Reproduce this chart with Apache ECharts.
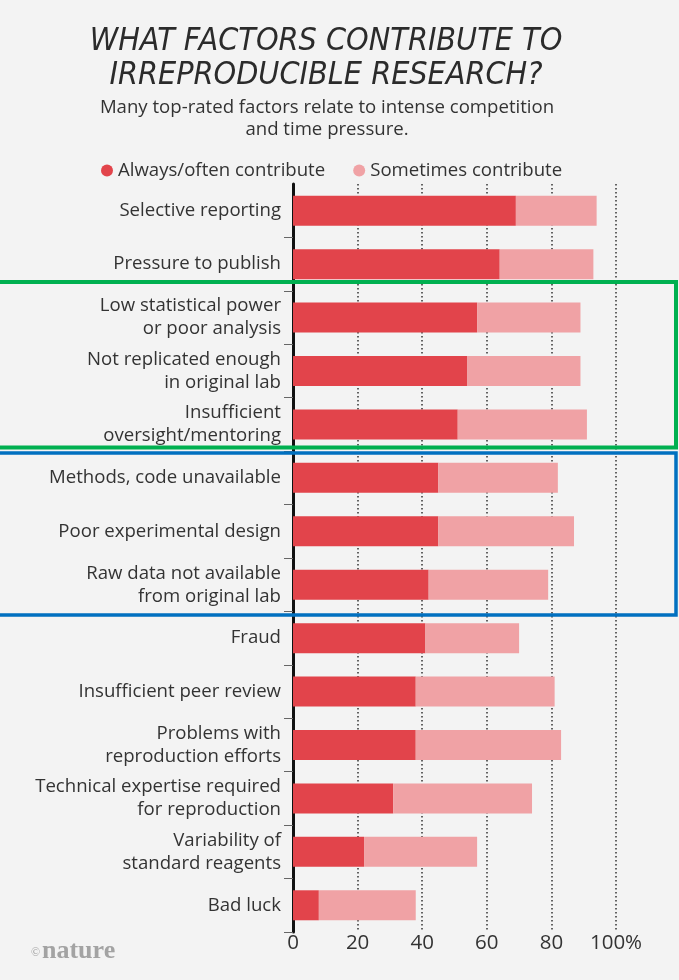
<!DOCTYPE html>
<html>
<head>
<meta charset="utf-8">
<script src="https://cdn.jsdelivr.net/npm/echarts@6/dist/echarts.min.js"></script>
<style>
html,body{margin:0;padding:0;background:#f3f3f3;}
#chart{width:679px;height:980px;}
</style>
</head>
<body>
<div id="chart"></div>
<script>
const categories = [
  "Selective reporting",
  "Pressure to publish",
  "Low statistical power\nor poor analysis",
  "Not replicated enough\nin original lab",
  "Insufficient\noversight/mentoring",
  "Methods, code unavailable",
  "Poor experimental design",
  "Raw data not available\nfrom original lab",
  "Fraud",
  "Insufficient peer review",
  "Problems with\nreproduction efforts",
  "Technical expertise required\nfor reproduction",
  "Variability of\nstandard reagents",
  "Bad luck"
];
const alwaysOften = [69, 64, 57, 54, 51, 45, 45, 42, 41, 38, 38, 31, 22, 8];
const sometimes   = [25, 29, 32, 35, 40, 37, 42, 37, 29, 43, 45, 43, 35, 30];
const xTicks = [0, 20, 40, 60, 80, 100];
const seriesNames = ["Always/often contribute", "Sometimes contribute"];

const DARK = '#e2444b';
const LIGHT = '#f0a2a5';
const FONT = '"Open Sans", "Liberation Sans", Arial, sans-serif';
const TFONT = '"Liberation Sans Narrow", "DejaVu Sans Condensed", sans-serif';

const chart = echarts.init(document.getElementById('chart'), null, {renderer: 'canvas'});
chart.setOption({
  backgroundColor: '#f3f3f3',
  animation: false,
  legend: {
    left: 96, top: 156,
    itemWidth: 12, itemHeight: 12, itemGap: 28,
    icon: 'circle',
    textStyle: {fontFamily: FONT, fontSize: 18.6, color: '#333'},
    data: seriesNames
  },
  grid: {left: 293, right: 63, top: 184, bottom: 48, containLabel: false},
  xAxis: {
    type: 'value', min: 0, max: 100, interval: 20,
    axisLine: {show: false}, axisTick: {show: false},
    axisLabel: {
      fontFamily: FONT, fontSize: 20.5, color: '#333', margin: 1,
      formatter: v => (v === 100 ? v + '%' : String(v))
    },
    splitLine: {show: true, lineStyle: {color: '#333', width: 1.5, type: [1.5, 2.5]}}
  },
  yAxis: {
    type: 'category', inverse: true, data: categories,
    axisLine: {show: true, lineStyle: {color: '#111', width: 3}},
    axisTick: {show: true, length: 9, interval: (i) => i !== 0, lineStyle: {color: '#666', width: 1}},
    axisLabel: {fontFamily: FONT, fontSize: 18.6, color: '#333', margin: 12, lineHeight: 23, align: 'right', padding: [4, 0, 0, 0]}
  },
  series: [
    {name: seriesNames[0], type: 'bar', stack: 'a', data: alwaysOften, barWidth: 30,
     itemStyle: {color: DARK}},
    {name: seriesNames[1], type: 'bar', stack: 'a', data: sometimes, barWidth: 30,
     itemStyle: {color: LIGHT}}
  ],
  graphic: [
    {type: 'text', x: 326, y: 42, style: {text: 'WHAT FACTORS CONTRIBUTE TO', fontFamily: TFONT, fontStyle: 'italic', fontSize: 32, fill: '#2b2b2b', textAlign: 'center', textVerticalAlign: 'middle'}},
    {type: 'text', x: 326, y: 76, style: {text: 'IRREPRODUCIBLE RESEARCH?', fontFamily: TFONT, fontStyle: 'italic', fontSize: 32, fill: '#2b2b2b', textAlign: 'center', textVerticalAlign: 'middle'}},
    {type: 'text', x: 327, y: 108, style: {text: 'Many top-rated factors relate to intense competition', fontFamily: FONT, fontSize: 18.6, fill: '#333', textAlign: 'center', textVerticalAlign: 'middle'}},
    {type: 'text', x: 327, y: 130, style: {text: 'and time pressure.', fontFamily: FONT, fontSize: 18.6, fill: '#333', textAlign: 'center', textVerticalAlign: 'middle'}},
    {type: 'text', x: 31, y: 953, style: {text: '©', fontFamily: '"Liberation Serif", serif', fontSize: 12, fill: '#a3a3a3', textVerticalAlign: 'middle'}},
    {type: 'text', x: 42, y: 951, style: {text: 'nature', fontFamily: '"Liberation Serif", serif', fontWeight: 'bold', fontSize: 26, fill: '#a3a3a3', textVerticalAlign: 'middle'}},
    {type: 'rect', shape: {x: -4, y: 282, width: 680, height: 165.5}, style: {fill: 'none', stroke: '#00b050', lineWidth: 4}, z: 100},
    {type: 'rect', shape: {x: -4, y: 453, width: 680, height: 162}, style: {fill: 'none', stroke: '#0070c0', lineWidth: 3.5}, z: 100}
  ]
});
</script>
</body>
</html>
